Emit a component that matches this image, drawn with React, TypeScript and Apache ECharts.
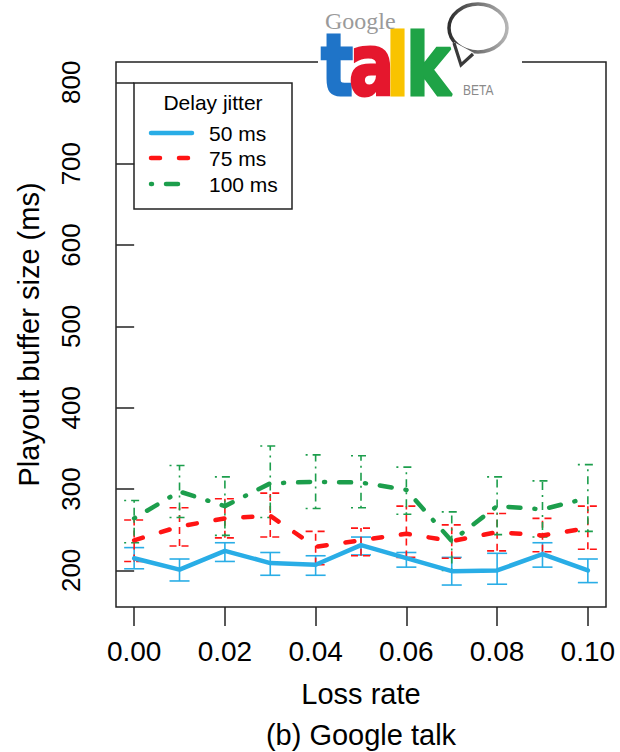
import React, { useEffect, useRef } from 'react';
import * as echarts from 'echarts';

const lossRates = [0, 0.01, 0.02, 0.03, 0.04, 0.05, 0.06, 0.07, 0.08, 0.09, 0.1];

const jitter50 = [215, 201, 224, 209, 207, 231, 215, 199, 200, 220, 200];
const jitter50Low = [202, 187, 211, 194, 194, 219, 204, 182, 183, 204, 185];
const jitter50High = [228, 214, 234, 222, 218, 241, 222, 216, 221, 234, 214];

const jitter75 = [237, 254, 264, 267, 229, 237, 245, 236, 247, 243, 252];
const jitter75Low = [211, 230, 240, 241, 207, 218, 216, 215, 224, 223, 226];
const jitter75High = [262, 277, 288, 295, 248, 252, 279, 256, 270, 264, 279];

const jitter100 = [264, 297, 279, 307, 309, 308, 299, 236, 279, 275, 289];
const jitter100Low = [234, 265, 243, 265, 276, 277, 269, 200, 244, 241, 248];
const jitter100High = [286, 329, 315, 353, 342, 341, 327, 272, 315, 310, 330];

const seriesNames = ['50 ms', '75 ms', '100 ms'];
const legendTitle = 'Delay jitter';
const xTicks = [0, 0.02, 0.04, 0.06, 0.08, 0.1];
const yTicks = [200, 300, 400, 500, 600, 700, 800];
const xTitle = 'Loss rate';
const yTitle = 'Playout buffer size (ms)';
const caption = '(b) Google talk';

const FONT = '"Liberation Sans", Arial, Helvetica, sans-serif';
const COLORS = ['#29ADE6', '#FF1414', '#1C9E4C'];
const MAIN_DASH: any[] = ['solid', [9, 19], [1, 14, 12, 14]];
const BAR_DASH: any[] = [null, [7, 5], [2, 5, 8, 5]];

const groups = [
  { mid: jitter50, lo: jitter50Low, hi: jitter50High },
  { mid: jitter75, lo: jitter75Low, hi: jitter75High },
  { mid: jitter100, lo: jitter100Low, hi: jitter100High },
];

export default function App() {
  const ref = useRef<HTMLDivElement>(null);
  useEffect(() => {
    if (!ref.current) return;
    const chart = echarts.init(ref.current, undefined, { renderer: 'svg' });

    const series: any[] = [];
    groups.forEach((g, i) => {
      series.push({
        type: 'custom',
        name: seriesNames[i] + ' err',
        z: 3,
        data: lossRates.map((x, k) => [x, g.lo[k], g.hi[k]]),
        encode: { x: 0, y: [1, 2] },
        renderItem: (params: any, api: any) => {
          const x = api.value(0);
          const pLo = api.coord([x, api.value(1)]);
          const pHi = api.coord([x, api.value(2)]);
          const hw = 10;
          const style: any = { stroke: COLORS[i], lineWidth: 1.6, fill: 'none' };
          if (BAR_DASH[i]) style.lineDash = BAR_DASH[i];
          return {
            type: 'group',
            children: [
              { type: 'line', shape: { x1: pLo[0], y1: pLo[1], x2: pHi[0], y2: pHi[1] }, style },
              { type: 'line', shape: { x1: pLo[0] - hw, y1: pLo[1], x2: pLo[0] + hw, y2: pLo[1] }, style },
              { type: 'line', shape: { x1: pHi[0] - hw, y1: pHi[1], x2: pHi[0] + hw, y2: pHi[1] }, style },
            ],
          };
        },
      });
      series.push({
        type: 'line',
        name: seriesNames[i],
        z: 4,
        symbol: 'none',
        data: lossRates.map((x, k) => [x, g.mid[k]]),
        lineStyle: { color: COLORS[i], width: 4.5, type: MAIN_DASH[i], cap: 'round', join: 'round' },
      });
    });

    const legendX1 = 151, legendX2 = 192;
    const legendYs = [133, 158, 184];
    const legendChildren: any[] = [
      { type: 'rect', shape: { x: 134, y: 83, width: 158, height: 126 }, style: { fill: '#fff', stroke: '#222', lineWidth: 1.5 } },
      { type: 'text', x: 213, y: 102, style: { text: legendTitle, fill: '#000', font: `21px ${FONT}`, textAlign: 'center', align: 'center', textVerticalAlign: 'middle', verticalAlign: 'middle' } },
    ];
    seriesNames.forEach((n, i) => {
      const st: any = { stroke: COLORS[i], lineWidth: 4.5, lineCap: 'round' };
      if (i > 0) st.lineDash = MAIN_DASH[i];
      legendChildren.push({ type: 'line', shape: { x1: legendX1, y1: legendYs[i], x2: legendX2, y2: legendYs[i] }, style: st });
      legendChildren.push({ type: 'text', x: 209, y: legendYs[i], style: { text: n, fill: '#000', font: `21px ${FONT}`, textAlign: 'left', align: 'left', textVerticalAlign: 'middle', verticalAlign: 'middle' } });
    });

    const bubbleStroke = new echarts.graphic.LinearGradient(0, 0, 1, 0, [
      { offset: 0, color: '#2e2e2e' },
      { offset: 1, color: '#b5b5b5' },
    ]);
    const letter = (ch: string, x: number, color: string) => ({
      type: 'text', x, y: 65, scaleX: 0.78,
      style: { text: ch, fill: color, stroke: color, lineWidth: 3, font: `bold 86px "DejaVu Sans", sans-serif`, textAlign: 'left', align: 'left', textVerticalAlign: 'middle', verticalAlign: 'middle' },
    });
    const logoChildren: any[] = [
      { type: 'rect', shape: { x: 318, y: 0, width: 204, height: 104 }, style: { fill: '#fff' } },
      { type: 'ellipse', shape: { cx: 478, cy: 28, rx: 29, ry: 24 }, style: { fill: '#fff', stroke: bubbleStroke, lineWidth: 3.5 } },
      { type: 'polygon', shape: { points: [[454, 42], [461, 65], [474, 53]] }, style: { fill: '#fff' } },
      { type: 'polyline', shape: { points: [[454, 43], [461, 65], [473, 54]] }, style: { stroke: '#3a3a3a', lineWidth: 3.2, fill: 'none', lineJoin: 'miter' } },
      letter('t', 321, '#1f74c8'),
      letter('a', 349, '#e5172d'),
      letter('l', 386, '#f9c300'),
      letter('k', 406, '#1fa346'),
      { type: 'text', x: 325, y: 21, style: { text: 'Google', fill: '#9a9a9a', font: `24px "Liberation Serif", serif`, textAlign: 'left', align: 'left', textVerticalAlign: 'middle', verticalAlign: 'middle' } },
      { type: 'text', x: 463, y: 90, scaleX: 0.8, style: { text: 'BETA', fill: '#8a8a8a', font: `15px ${FONT}`, textAlign: 'left', align: 'left', textVerticalAlign: 'middle', verticalAlign: 'middle' } },
    ];

    chart.setOption({
      animation: false,
      backgroundColor: '#fff',
      grid: { left: 116, top: 62, width: 490, height: 545, show: true, borderColor: '#222', borderWidth: 1.5, backgroundColor: 'transparent' },
      xAxis: {
        type: 'value', min: -0.004, max: 0.104,
        axisLine: { show: false },
        splitLine: { show: false },
        axisTick: { show: true, customValues: xTicks, length: 19, lineStyle: { color: '#222', width: 1.5 } },
        axisLabel: { customValues: xTicks, formatter: (v: number) => v.toFixed(2), fontSize: 28, fontFamily: FONT, color: '#000', margin: 30 },
        name: xTitle, nameLocation: 'middle', nameGap: 72,
        nameTextStyle: { fontSize: 29, fontFamily: FONT, color: '#000' },
      },
      yAxis: {
        type: 'value', min: 155, max: 825,
        axisLine: { show: false },
        splitLine: { show: false },
        axisTick: { show: true, customValues: yTicks, length: 18, lineStyle: { color: '#222', width: 1.5 } },
        axisLabel: { customValues: yTicks, rotate: 90, fontSize: 26, fontFamily: FONT, color: '#000', margin: 32 },
        name: yTitle, nameLocation: 'middle', nameGap: 73, nameRotate: 90,
        nameTextStyle: { fontSize: 29, fontFamily: FONT, color: '#000' },
      },
      series,
      graphic: [
        { type: 'group', z: 100, children: legendChildren },
        { type: 'group', z: 101, children: logoChildren },
        { type: 'text', z: 100, x: 361, y: 735, style: { text: caption, fill: '#000', font: `29px ${FONT}`, textAlign: 'center', align: 'center', textVerticalAlign: 'middle', verticalAlign: 'middle' } },
      ],
    });
    return () => chart.dispose();
  }, []);
  return <div ref={ref} style={{ position: 'fixed', left: 0, top: 0, width: 620, height: 752 }} />;
}
